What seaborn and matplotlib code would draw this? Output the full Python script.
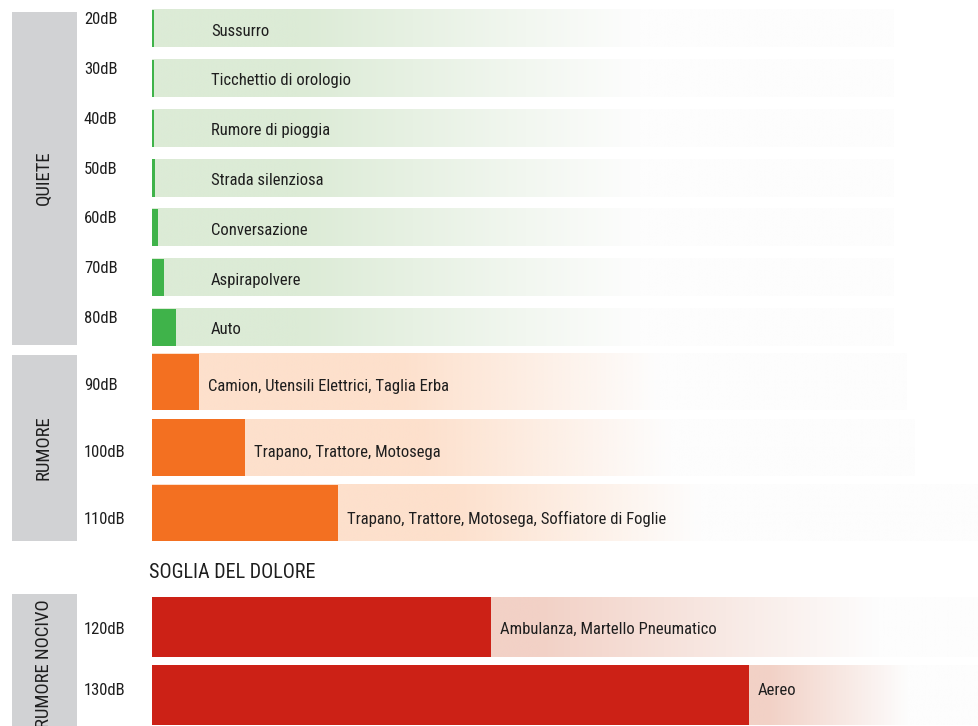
import numpy as np
import matplotlib
matplotlib.use('Agg')
import matplotlib.pyplot as plt
import matplotlib.transforms as mtransforms
from matplotlib.colors import LinearSegmentedColormap
from matplotlib.patches import Rectangle
from matplotlib import font_manager
import seaborn as sns

# ---------------- data ----------------
levels_quiete = ['20dB', '30dB', '40dB', '50dB', '60dB', '70dB', '80dB']
sources_quiete = ['Sussurro', 'Ticchettio di orologio', 'Rumore di pioggia',
                  'Strada silenziosa', 'Conversazione', 'Aspirapolvere', 'Auto']
values_quiete = [1.5, 1.5, 2, 3, 6, 12, 24]

levels_rumore = ['90dB', '100dB', '110dB']
sources_rumore = ['Camion, Utensili Elettrici, Taglia Erba',
                  'Trapano, Trattore, Motosega',
                  'Trapano, Trattore, Motosega, Soffiatore di Foglie']
values_rumore = [47, 93, 186]

levels_nocivo = ['120dB', '130dB']
sources_nocivo = ['Ambulanza, Martello Pneumatico', 'Aereo']
values_nocivo = [339, 597]

group_labels = ['QUIETE', 'RUMORE', 'RUMORE NOCIVO']
threshold_label = 'SOGLIA DEL DOLORE'

# ---------------- style ----------------
sns.set_theme(style='white')
names = {f.name for f in font_manager.fontManager.ttflist}
FONT = dict(family='DejaVu Sans', stretch='condensed')
for cand in ['Roboto Condensed', 'Liberation Sans Narrow', 'Open Sans Condensed']:
    if cand in names:
        FONT = dict(family=cand)
        break
plt.rcParams['font.family'] = [FONT['family'], 'DejaVu Sans']
if 'stretch' in FONT:
    plt.rcParams['font.stretch'] = 'condensed'

TXT = '#1e1e1e'
GRAY = '#d1d2d4'
W, H = 979, 726
fig = plt.figure(figsize=(W / 100, H / 100), dpi=100)
fig.patch.set_facecolor('white')


def px_axes(x0, y0, x1, y1):
    return fig.add_axes([x0 / W, 1 - y1 / H, (x1 - x0) / W, (y1 - y0) / H])


X0, X1 = 152, 979


def row_cmap(light, bg_end, fs, fe):
    a = min(max((fs - X0) / bg_end, 0.0), 0.98)
    b = min(max((fe - X0) / bg_end, a + 0.01), 0.995)
    return LinearSegmentedColormap.from_list(
        'g', [(0.0, light), (a, light), (b, '#fdfdfd'), (1.0, '#fdfdfd')])


groups = [
    dict(levels=levels_quiete, sources=sources_quiete, values=values_quiete,
         y0=3.6, y1=352.4, width=0.743, color='#3fb34a', light='#dcebd6',
         bg_end=[742] * 7, fade=[(300, 640)] * 7, label_fixed=59,
         db_off=[-9] * 7, txt_off=[2.5] * 7),
    dict(levels=levels_rumore, sources=sources_rumore, values=values_rumore,
         y0=349.25, y1=545.75, width=0.87, color='#f37021', light='#fde0cc',
         bg_end=[755, 763, 830], fade=[(400, 660), (420, 670), (450, 700)],
         label_fixed=None, db_off=[4, 5, 7], txt_off=[5, 5, 6]),
    dict(levels=levels_nocivo, sources=sources_nocivo, values=values_nocivo,
         y0=593, y1=729, width=0.88, color='#cc2116', light='#f2d1c6',
         bg_end=[830, 830], fade=[(540, 880), (770, 910)],
         label_fixed=None, db_off=[2, -5], txt_off=[2, -5]),
]

grad = np.linspace(0, 1, 1024).reshape(1, -1)
for g in groups:
    ax = px_axes(X0, g['y0'], X1, g['y1'])
    n = len(g['levels'])
    w = g['width']
    pitch = (g['y1'] - g['y0']) / n
    for i in range(n):
        cmap = row_cmap(g['light'], g['bg_end'][i], *g['fade'][i])
        ax.imshow(grad, cmap=cmap, aspect='auto', zorder=0,
                  extent=(0, g['bg_end'][i], i + w / 2, i - w / 2),
                  interpolation='bilinear')
    sns.barplot(x=g['values'], y=g['levels'], orient='h', color=g['color'],
                saturation=1, width=w, ax=ax, zorder=2, linewidth=0)
    ax.set_xlim(0, X1 - X0)
    ax.set_ylim(n - 0.5, -0.5)
    ax.axis('off')
    tr = mtransforms.blended_transform_factory(fig.transFigure, ax.transData)
    for i, (lvl, src, v) in enumerate(zip(g['levels'], g['sources'], g['values'])):
        lx = g['label_fixed'] if g['label_fixed'] is not None else v + 9
        ax.text(lx, i + g['txt_off'][i] / pitch, src, ha='left', va='center',
                fontsize=12, color=TXT, zorder=3)
        fig.text(84 / W, i + g['db_off'][i] / pitch, lvl, transform=tr, ha='left',
                 va='center', fontsize=12, color=TXT)

# gray side boxes with vertical group labels
boxes = [(12, 345, 178), (355, 541, 448), (594, 760, 664)]
for (ya, yb, yc), lab in zip(boxes, group_labels):
    fig.patches.append(Rectangle((12 / W, 1 - yb / H), 65 / W, (yb - ya) / H,
                                 transform=fig.transFigure, facecolor=GRAY,
                                 edgecolor='none', zorder=0))
    fig.text(44 / W, 1 - yc / H, lab, rotation=90, ha='center', va='center',
             fontsize=13.5, color=TXT)

fig.text(149 / W, 1 - 573 / H, threshold_label, ha='left', va='center',
         fontsize=14.5, color=TXT)

fig.savefig('out.png', dpi=100, facecolor='white')
